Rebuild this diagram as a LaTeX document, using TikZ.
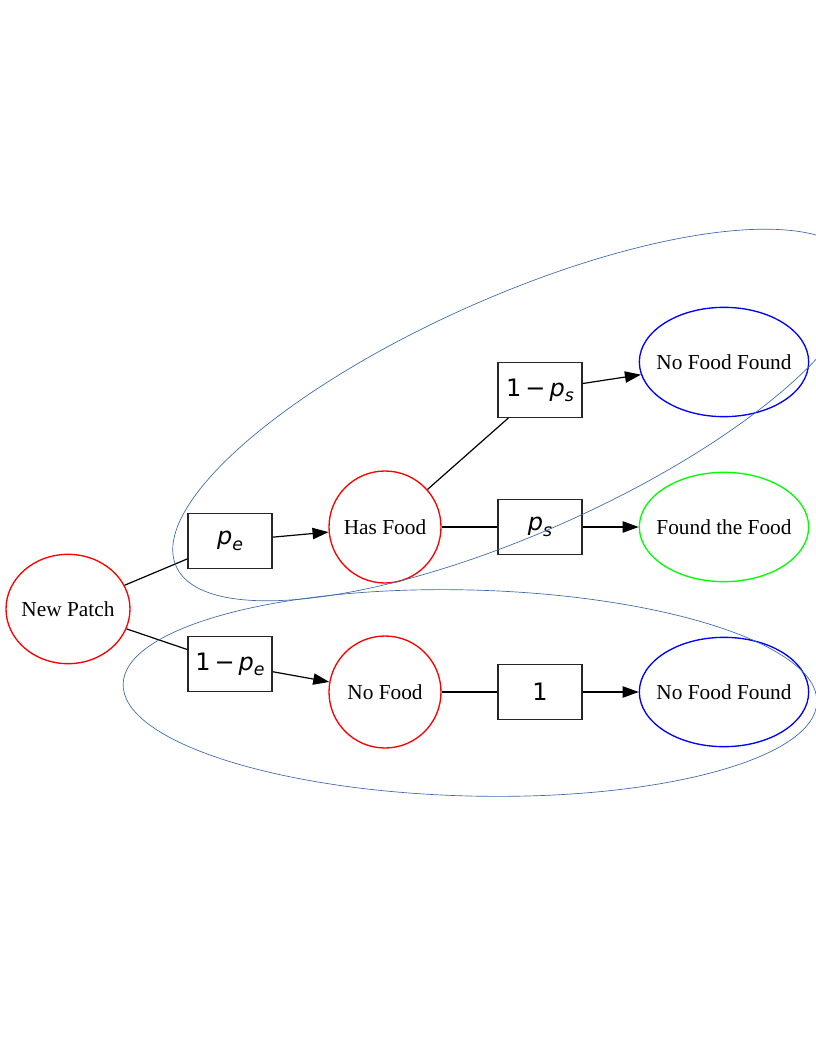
\documentclass[tikz,border=0pt]{standalone}
\usepackage{fontspec}
\setmainfont{Liberation Serif}
\newfontfamily\probfont{DejaVu Sans}
\usetikzlibrary{arrows.meta,shapes.geometric}
\definecolor{outblue}{RGB}{58,104,170}
\newcommand{\pr}[2]{{\probfont #1\textit{p}\raisebox{-0.4ex}{\fontsize{13}{13}\selectfont\textit{#2}}}}
\begin{document}
\begin{tikzpicture}[x=0.75pt, y=-0.75pt,
	>={Triangle[length=12pt,width=8.5pt]},
	state/.style={circle, draw=red, line width=1pt, minimum size=84pt, inner sep=0pt, font=\fontsize{16}{18}\selectfont},
	start/.style={ellipse, draw=red, line width=1pt, minimum width=93pt, minimum height=82pt, inner sep=0pt, font=\fontsize{16}{18}\selectfont},
	final/.style={ellipse, line width=1pt, minimum width=127pt, minimum height=82pt, inner sep=0pt, font=\fontsize{16}{18}\selectfont},
	probbox/.style={rectangle, draw=black!85, line width=1pt, minimum width=63pt, minimum height=41pt, font=\fontsize{18}{20}\selectfont},
	edge/.style={line width=0.9pt},
	outline/.style={draw=outblue, line width=0.5pt}]
		\useasboundingbox (0,0) rectangle (816,1056);

		\node[start] (np) at (68,609) {\makebox[0pt]{New Patch}};
		\node[probbox] (pe) at (230,541) {\pr{}{e}};
		\node[probbox] (qe) at (230,664) {\pr{1\,−\,}{e}};
		\node[state] (hf) at (385,527) {Has Food};
		\node[state] (nf) at (385,692) {No Food};
		\node[probbox] (qs) at (540,390) {\pr{1\,−\,}{s}};
		\node[probbox] (ps) at (540,527) {\pr{}{s}};
		\node[probbox] (one) at (540,692) {{\probfont 1}};
		\node[final, draw=blue] (nff) at (724,362) {\makebox[0pt]{No Food Found}};
		\node[final, draw=green] (ff) at (724,527) {\makebox[0pt]{Found the Food}};
		\node[final, draw=blue] (nfb) at (724,692) {\makebox[0pt]{No Food Found}};

		\draw[edge] (np) -- (pe);
		\draw[edge, ->] (pe) -- (hf);
		\draw[edge] (np) -- (qe);
		\draw[edge, ->] (qe) -- (nf);
		\draw[edge] (hf) -- (qs);
		\draw[edge, ->] (qs) -- (nff);
		\draw[edge] (hf) -- (ps);
		\draw[edge, ->] (ps) -- (ff);
		\draw[edge] (nf) -- (one);
		\draw[edge, ->] (one) -- (nfb);

		% outlines round the two branches
		\begin{scope}
			\clip (0,0) rectangle (816,1056);
			\draw[outline, rotate around={24:(516,415)}] (516,415) ellipse [x radius=372, y radius=118];
			\draw[outline, rotate around={-1.5:(470,693)}] (470,693) ellipse [x radius=347, y radius=103];
		\end{scope}
\end{tikzpicture}
\end{document}
